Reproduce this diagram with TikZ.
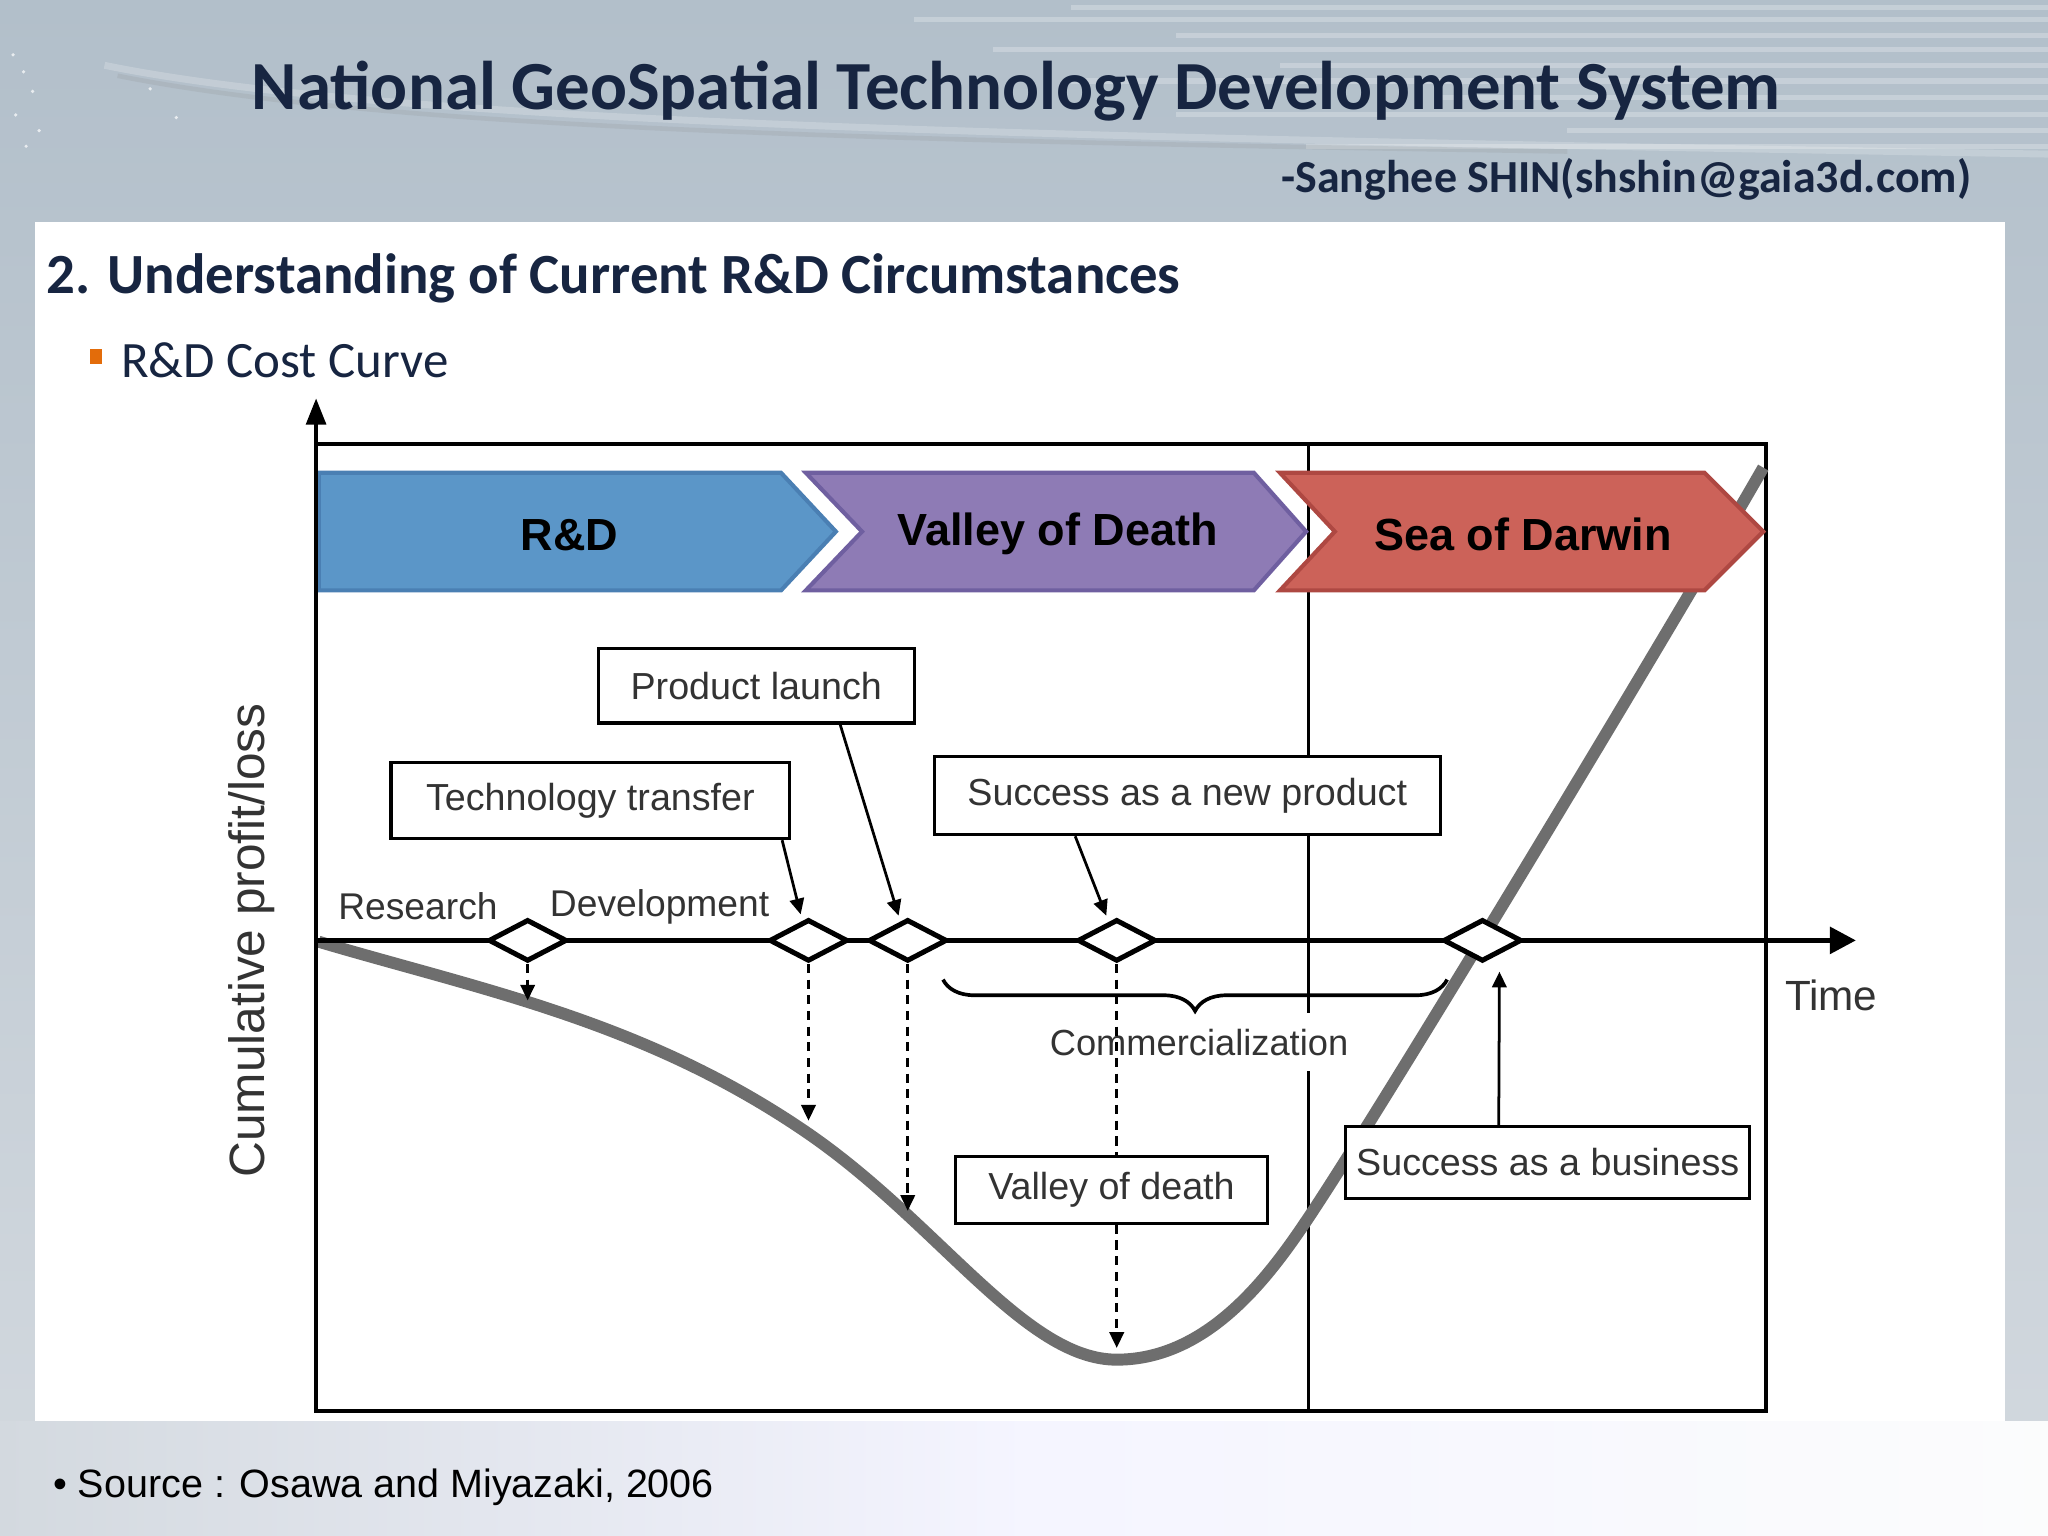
\documentclass[tikz,border=0pt]{standalone}
\usepackage{fontspec}
\setmainfont{Liberation Sans}
\newfontfamily\slidefont{Carlito}
\usetikzlibrary{positioning, arrows.meta, shapes.geometric, decorations.pathreplacing}

\definecolor{navy}{HTML}{172541}
\definecolor{slidetop}{HTML}{B2BFCA}
\definecolor{slidelow}{HTML}{D3D9DF}
\definecolor{bulletorange}{HTML}{E36C0A}
\definecolor{rdblue}{HTML}{5B96C8}
\definecolor{rdblueline}{HTML}{4A7FB3}
\definecolor{vodpurple}{HTML}{8E7BB5}
\definecolor{vodline}{HTML}{6F5FA0}
\definecolor{sodred}{HTML}{CC6259}
\definecolor{sodline}{HTML}{AE4842}
\definecolor{curvegray}{HTML}{6E6E6E}

\begin{document}
\begin{tikzpicture}[x=0.01cm, y=-0.01cm, >={Triangle[length=1.2mm,width=1.1mm]},
    labelbox/.style={draw, line width=0.7pt, fill=white, inner sep=0pt, text=black!80, font=\fontsize{8.2}{10}\selectfont},
    gate/.style={diamond, draw, line width=1.1pt, fill=white, minimum width=0.6cm, minimum height=0.32cm, inner sep=0pt},
    dropline/.style={->, line width=0.55pt, dash pattern=on 0.07cm off 0.05cm},
    pointer/.style={->, line width=0.6pt}]
    \useasboundingbox (0,0) rectangle (1568,1176);
    % ---------------- slide background
    \shade[top color=slidetop, bottom color=slidelow] (0,0) rectangle (1568,1176);
    \foreach \yy/\xs in {6/820, 15/700, 27/900, 38/760, 50/980, 62/820, 75/1100, 88/900, 100/1200, 112/1000}
      \draw[white, opacity=0.25, line width=1.1pt] (\xs,\yy) -- (1568,\yy);
    \draw[white, opacity=0.2, line width=1.5pt] (80,50) .. controls (300,95) and (800,105) .. (1568,118);
    \draw[gray, opacity=0.15, line width=1pt] (90,58) .. controls (300,100) and (700,108) .. (1200,116);
    \foreach \px/\py in {10/42, 18/55, 25/70, 12/88, 30/100, 20/112, 115/68, 135/90}
      \fill[white, opacity=0.7] (\px,\py) circle (0.014cm);
    \shade[left color=slidelow, right color=white!92!slidelow, middle color=white!96!blue] (0,1088) rectangle (1568,1176);
    \fill[white] (27,170) rectangle (1535,1088);
    % ---------------- slide texts
    \node[text=navy, font=\slidefont\bfseries\fontsize{15}{18}\selectfont] (title) at (778,70) {National GeoSpatial Technology Development System};
    \node[anchor=east, inner sep=0pt, text=navy, font=\slidefont\bfseries\fontsize{10}{12}\selectfont] (author) at (1510,137) {-Sanghee SHIN(shshin@gaia3d.com)};
    \node[anchor=west, inner sep=0pt, text=navy, font=\slidefont\bfseries\fontsize{12.37}{15}\selectfont] (section) at (35,213) {2. Understanding of Current R\&D Circumstances};
    \fill[bulletorange] (69,267) rectangle (78,279);
    \node[anchor=west, inner sep=0pt, text=navy, font=\slidefont\fontsize{11.1}{13}\selectfont] (subsection) at (92,276) {R\&D Cost Curve};
    \node[anchor=west, inner sep=0pt, font=\fontsize{8.6}{11}\selectfont] (source) at (40,1139) {\textbullet\ Source : Osawa and Miyazaki, 2006};
    % ---------------- frame and curve
    \draw[line width=0.85pt] (242,340) rectangle (1352,1080);
    \draw[line width=0.6pt] (1002,340) -- (1002,1080);
    \draw[curvegray, line width=2.6pt] (244,721) .. controls (369,758) and (494,782) .. (619,868)
      .. controls (719,937) and (785,1041) .. (855,1041)
      .. controls (925,1041) and (972,977) .. (1002,932)
      .. controls (1062,842) and (1280,480) .. (1350,358);
    % ---------------- chevrons
    \filldraw[fill=rdblue, draw=rdblueline, line width=0.9pt] (244,362) -- (598,362) -- (640,407) -- (598,452) -- (244,452) -- cycle;
    \filldraw[fill=vodpurple, draw=vodline, line width=0.9pt] (617,362) -- (960,362) -- (1000,407) -- (960,452) -- (617,452) -- (660,407) -- cycle;
    \filldraw[fill=sodred, draw=sodline, line width=0.9pt] (980,362) -- (1305,362) -- (1350,407) -- (1305,452) -- (980,452) -- (1022,407) -- cycle;
    \node[font=\bfseries\fontsize{9.8}{12}\selectfont] (rd) at (436,410) {R\&D};
    \node[font=\bfseries\fontsize{9.8}{12}\selectfont] (vod) at (810,409) {Valley of Death};
    \node[font=\bfseries\fontsize{9.8}{12}\selectfont] (sod) at (1166,409) {Sea of Darwin};
    % ---------------- axes
    \draw[line width=0.85pt, -{Triangle[length=2mm,width=1.5mm]}] (242,1080) -- (242,305);
    \draw[line width=1.2pt, -{Triangle[length=2mm,width=2mm]}] (242,720) -- (1421,720);
    \node[rotate=90, text=black!80, font=\fontsize{10.8}{13}\selectfont] (ylabel) at (193,720) {Cumulative profit/loss};
    \node[text=black!80, font=\fontsize{9.2}{11}\selectfont] (time) at (1402,762) {Time};
    \node[text=black!80, font=\fontsize{8.1}{10}\selectfont] (research) at (320,694) {Research};
    \node[text=black!80, font=\fontsize{8.1}{10}\selectfont] (dev) at (505,694) {Development};
    \node[fill=white, inner xsep=0.02cm, inner ysep=0.12cm, text=black!80, font=\fontsize{7.9}{10}\selectfont] (comm) at (918,798) {Commercialization};
    \draw[line width=0.8pt, decorate, decoration={brace, amplitude=0.24cm, mirror}] (722,750) -- (1108,750);
    % ---------------- milestones and boxes
    \foreach \n/\xx in {1/404, 2/619, 3/695, 4/855, 5/1135}
      \node[gate] (d\n) at (\xx,720) {};
    \node[labelbox, minimum width=2.42cm, minimum height=0.57cm] (launch) at (579,525) {Product launch};
    \node[labelbox, minimum width=3.05cm, minimum height=0.58cm] (transfer) at (452,613) {Technology transfer};
    \node[labelbox, minimum width=3.87cm, minimum height=0.60cm] (newprod) at (909,609) {Success as a new product};
    \node[labelbox, minimum width=2.39cm, minimum height=0.51cm] (valley) at (851,911) {Valley of death};
    \node[labelbox, minimum width=3.09cm, minimum height=0.55cm] (business) at (1185,890) {Success as a business};
    \draw[pointer] ([xshift=-0.07cm]transfer.south east) -- ([xshift=-0.06cm, yshift=0.02cm]d2.north);
    \draw[pointer] ([xshift=-0.58cm]launch.south east) -- ([xshift=-0.07cm, yshift=0.01cm]d3.north);
    \draw[pointer] ([xshift=1.09cm]newprod.south west) -- ([xshift=-0.08cm, yshift=0.01cm]d4.north);
    \draw[pointer] ([xshift=-0.375cm]business.north) -- ([xshift=0.13cm, yshift=-0.06cm]d5.south);
    \coordinate (e1) at (404,766);
    \coordinate (e2) at (619,858);
    \coordinate (e3) at (695,927);
    \coordinate (e4) at (855,1032);
    \draw[dropline] (d1.south) -- (e1);
    \draw[dropline] (d2.south) -- (e2);
    \draw[dropline] (d3.south) -- (e3);
    \draw[dropline, -] (d4.south) -- (d4.south |- valley.north);
    \draw[dropline] (d4.south |- valley.south) -- (e4);
\end{tikzpicture}
\end{document}
